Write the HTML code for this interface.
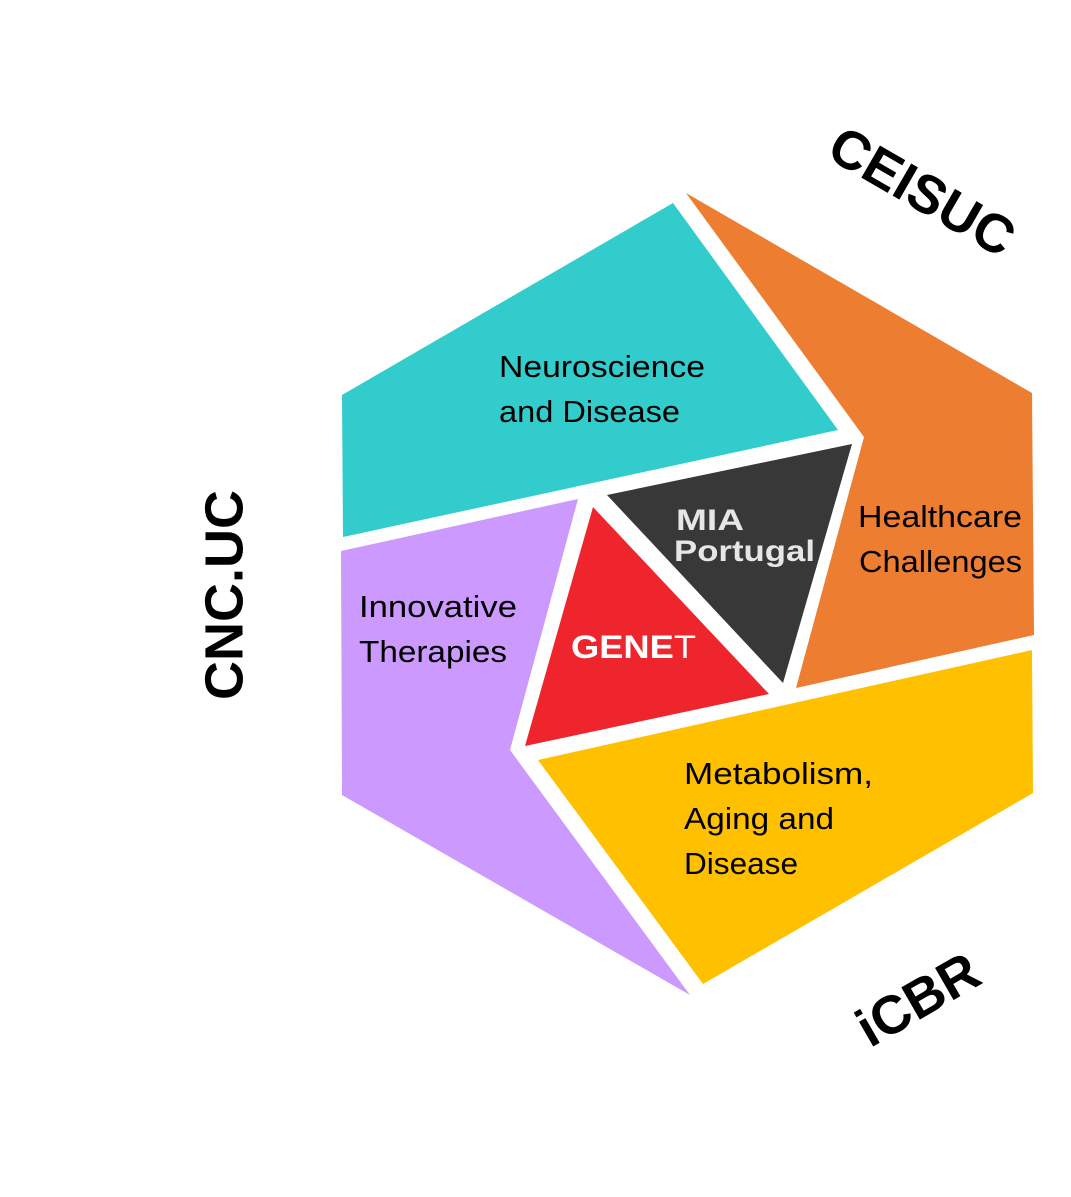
<!DOCTYPE html>
<html><head><meta charset="utf-8"><style>
html,body{margin:0;padding:0;background:#fff;}
</style></head><body>
<svg width="1071" height="1192" viewBox="0 0 1071 1192" xmlns="http://www.w3.org/2000/svg" font-family="Liberation Sans, sans-serif">
<polygon points="342,395 673,203 838,430 343,537" fill="#33CCCC"/>
<polygon points="686,193 1032,393 1034,635 796,688 864,437" fill="#ED7D31"/>
<polygon points="341,551 578,499 510,750 690,995 342,795" fill="#CC99FF"/>
<polygon points="538,760 1032,650 1033,793 703,984" fill="#FFC000"/>
<polygon points="607,495 852,444 783,683" fill="#383838"/>
<polygon points="593,507 769,694 525,746" fill="#EE252C"/>
<g font-size="31" fill="#000" lengthAdjust="spacingAndGlyphs">
<text x="499" y="377" textLength="206" lengthAdjust="spacingAndGlyphs">Neuroscience</text>
<text x="499" y="422" textLength="181" lengthAdjust="spacingAndGlyphs">and Disease</text>
<text x="858" y="527" textLength="164" lengthAdjust="spacingAndGlyphs">Healthcare</text>
<text x="859" y="572" textLength="163" lengthAdjust="spacingAndGlyphs">Challenges</text>
<text x="359" y="617" textLength="158" lengthAdjust="spacingAndGlyphs">Innovative</text>
<text x="359" y="662" textLength="148" lengthAdjust="spacingAndGlyphs">Therapies</text>
<text x="684" y="784" textLength="189" lengthAdjust="spacingAndGlyphs">Metabolism,</text>
<text x="684" y="829" textLength="150" lengthAdjust="spacingAndGlyphs">Aging and</text>
<text x="684" y="874" textLength="114" lengthAdjust="spacingAndGlyphs">Disease</text>
</g>
<g fill="#E6E6E6" font-weight="bold">
<text x="676" y="530" font-size="30" textLength="68" lengthAdjust="spacingAndGlyphs">MIA</text>
<text x="674" y="561" font-size="30" textLength="141" lengthAdjust="spacingAndGlyphs">Portugal</text>
</g>
<text x="571" y="658" font-size="32" font-weight="bold" fill="#fff" textLength="125" lengthAdjust="spacingAndGlyphs">GENE<tspan font-weight="normal">T</tspan></text>
<g font-size="54" font-weight="bold" fill="#000">
<text transform="translate(920,195) rotate(30)" text-anchor="middle" dominant-baseline="middle">CEISUC</text>
<text transform="translate(228,595) rotate(-90)" text-anchor="middle" dominant-baseline="middle">CNC.UC</text>
<text transform="translate(920,1003) rotate(-30)" text-anchor="middle" dominant-baseline="middle">iCBR</text>
</g>
</svg>
</body></html>
